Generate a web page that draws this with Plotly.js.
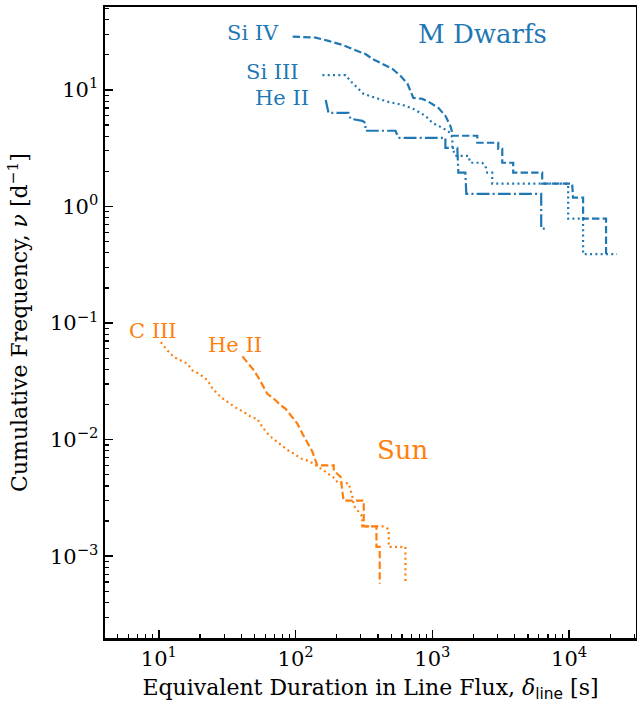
<!DOCTYPE html>
<html>
<head>
<meta charset="utf-8">
<script src="https://cdn.plot.ly/plotly-3.0.1.min.js"></script>
<style>html,body{margin:0;padding:0;background:#fff;}#chart{width:637px;height:704px;}</style>
</head>
<body>
<div id="chart"></div>
<script>
// ---- M dwarf curves (equivalent duration [s], cumulative frequency [d^-1]) ----
const mdSiIV_dur  = [95.1, 140, 174, 220, 260, 324, 365, 432, 511, 584, 657, 726, 845, 967, 1106, 1245, 1352, 1400, 1400, 2130, 2130, 3032, 3032, 3243, 3243, 3900, 3900, 6353, 6353, 10520, 10690, 12650, 12650, 18620, 18620];
const mdSiIV_freq = [28.6, 28.1, 26.3, 24.3, 22.4, 20.3, 18.4, 16.7, 15.1, 13.2, 11.3, 8.54, 8.37, 7.74, 7.01, 5.99, 4.92, 4.28, 4.04, 4.04, 3.52, 3.52, 3.12, 3.12, 2.37, 2.37, 1.95, 1.95, 1.57, 1.57, 1.19, 1.19, 0.785, 0.785, 0.39];

const mdSiIII_dur  = [157, 232, 252, 284, 313, 384, 477, 604, 726, 889, 1000, 1183, 1352, 1400, 1400, 1472, 1833, 1893, 2315, 2437, 2518, 2740, 2740, 9840, 9840, 12650, 12650, 22390];
const mdSiIII_freq = [13.4, 13.4, 11.9, 10.4, 9.25, 8.54, 7.89, 7.44, 6.87, 5.99, 5.21, 4.73, 4.28, 3.88, 3.18, 2.72, 2.72, 2.37, 2.37, 2.23, 1.95, 1.95, 1.57, 1.57, 0.785, 0.785, 0.39, 0.39];

const mdHeII_dur  = [166, 174, 244, 252, 308, 324, 324, 537, 565, 1245, 1245, 1522, 1548, 1742, 1771, 6248, 6248, 6700];
const mdHeII_freq = [8.2, 6.35, 6.35, 5.65, 5.43, 5.2, 4.46, 4.46, 3.88, 3.88, 3.18, 3.18, 1.95, 1.95, 1.28, 1.28, 0.645, 0.645];

// ---- Sun curves ----
const sunCIII_dur  = [10.34, 11.57, 12.93, 14.47, 16.2, 17.6, 19.7, 22.7, 24.7, 28.4, 31.7, 36.5, 41.9, 48.3, 52.5, 57.1, 63.8, 73.5, 82.1, 91.9, 97.2, 108.8, 121.7, 136.1, 175, 195.9, 201.6, 244.9, 252, 259.4, 266.4, 289.7, 306.8, 306.8, 441, 479.7, 479.7, 635, 635];
const sunCIII_freq = [0.0685, 0.0581, 0.0509, 0.0477, 0.0447, 0.0392, 0.0367, 0.0322, 0.0273, 0.0231, 0.0210, 0.0188, 0.0172, 0.0154, 0.0151, 0.0128, 0.0109, 0.0095, 0.0086, 0.0078, 0.0076, 0.0069, 0.0066, 0.0062, 0.0051, 0.0046, 0.0043, 0.0042, 0.0037, 0.0033, 0.0027, 0.0024, 0.0022, 0.0018, 0.0018, 0.0017, 0.0012, 0.0012, 0.00058];

const sunHeII_dur  = [40.8, 45.6, 49.6, 54.0, 58.7, 62.1, 69.4, 77.7, 84.5, 91.9, 102.9, 111.9, 121.7, 132.4, 140, 144, 190, 190, 213, 220, 224, 315, 315, 390, 390, 412, 412];
const sunHeII_freq = [0.0517, 0.0447, 0.0392, 0.0333, 0.0282, 0.0247, 0.0224, 0.0197, 0.0184, 0.0161, 0.0137, 0.0113, 0.0095, 0.0079, 0.0066, 0.0060, 0.0060, 0.0054, 0.0048, 0.0036, 0.0030, 0.0030, 0.0018, 0.0018, 0.0012, 0.0012, 0.00058];

// ---- tick labels ----
const xTickVals = [10, 100, 1000, 10000];
const xTickText = ['10<sup>1</sup>', '10<sup>2</sup>', '10<sup>3</sup>', '10<sup>4</sup>'];
const yTickVals = [0.001, 0.01, 0.1, 1, 10];
const yTickText = ['10<sup>\u22123</sup>', '10<sup>\u22122</sup>', '10<sup>\u22121</sup>', '10<sup>0</sup>', '10<sup>1</sup>'];

function minorVals(lo, hi) {
  const out = [];
  for (let e = lo; e <= hi; e++) for (let m = 2; m <= 9; m++) out.push(m * Math.pow(10, e));
  return out;
}

const BLUE = '#1f77b4', ORANGE = '#ff7f0e';
const DASH = '7.4px,3.2px', DOT = '2px,3.3px', DASHDOT = '12.8px,3.2px,2px,3.2px';
const mk = (x, y, color, dash) => ({x, y, type: 'scatter', mode: 'lines', line: {color, dash, width: 2.2}, hoverinfo: 'skip'});

const data = [
  mk(mdSiIV_dur, mdSiIV_freq, BLUE, DASH),
  mk(mdSiIII_dur, mdSiIII_freq, BLUE, DOT),
  mk(mdHeII_dur, mdHeII_freq, BLUE, DASHDOT),
  mk(sunCIII_dur, sunCIII_freq, ORANGE, DOT),
  mk(sunHeII_dur, sunHeII_freq, ORANGE, DASH)
];

const FONT = 'DejaVu Serif, serif';
const ann = (text, x, y, color, size, xanchor) => ({text, x, y, xref: 'paper', yref: 'paper', showarrow: false, font: {family: FONT, size, color}, xanchor, yanchor: 'middle'});

const layout = {
  width: 637, height: 704,
  margin: {l: 105, r: 1, t: 7, b: 66},
  paper_bgcolor: '#fff', plot_bgcolor: '#fff',
  showlegend: false,
  font: {family: FONT, size: 21, color: '#000'},
  xaxis: {
    type: 'log', range: [0.606, 4.489],
    tickmode: 'array', tickvals: xTickVals, ticktext: xTickText,
    ticks: 'inside', ticklen: 8, tickwidth: 1.6, tickcolor: '#000',
    minor: {tickmode: 'array', tickvals: minorVals(0, 4), ticks: 'inside', ticklen: 4, tickwidth: 1.2, tickcolor: '#000'},
    showline: true, linewidth: 2.5, linecolor: '#000', mirror: true,
    showgrid: false, zeroline: false,
    tickfont: {family: FONT, size: 21},
    title: {text: 'Equivalent Duration in Line Flux, <i>\u03b4</i><sub><span style="font-family:DejaVu Sans">line</span></sub> [s]', font: {family: FONT, size: 22}, standoff: 10}
  },
  yaxis: {
    type: 'log', range: [-3.702, 1.711],
    tickmode: 'array', tickvals: yTickVals, ticktext: yTickText,
    ticks: 'inside', ticklen: 8, tickwidth: 1.6, tickcolor: '#000',
    minor: {tickmode: 'array', tickvals: minorVals(-4, 1), ticks: 'inside', ticklen: 4, tickwidth: 1.2, tickcolor: '#000'},
    showline: true, linewidth: 2.5, linecolor: '#000', mirror: true,
    showgrid: false, zeroline: false,
    tickfont: {family: FONT, size: 21},
    title: {text: 'Cumulative Frequency, <i>\u03bd</i> [d<sup>\u22121</sup>]', font: {family: FONT, size: 22}, standoff: 16}
  },
  annotations: [
    ann('Si IV', 0.3315, 0.959, BLUE, 21, 'right'),
    ann('Si III', 0.369, 0.897, BLUE, 21, 'right'),
    ann('He II', 0.388, 0.856, BLUE, 21, 'right'),
    ann('M Dwarfs', 0.710, 0.957, BLUE, 26, 'center'),
    ann('C III', 0.0904, 0.4865, ORANGE, 21, 'center'),
    ann('He II', 0.2448, 0.4643, ORANGE, 21, 'center'),
    ann('Sun', 0.561, 0.298, ORANGE, 26, 'center')
  ]
};

Plotly.newPlot('chart', data, layout, {displayModeBar: false, staticPlot: true});
</script>
</body>
</html>
